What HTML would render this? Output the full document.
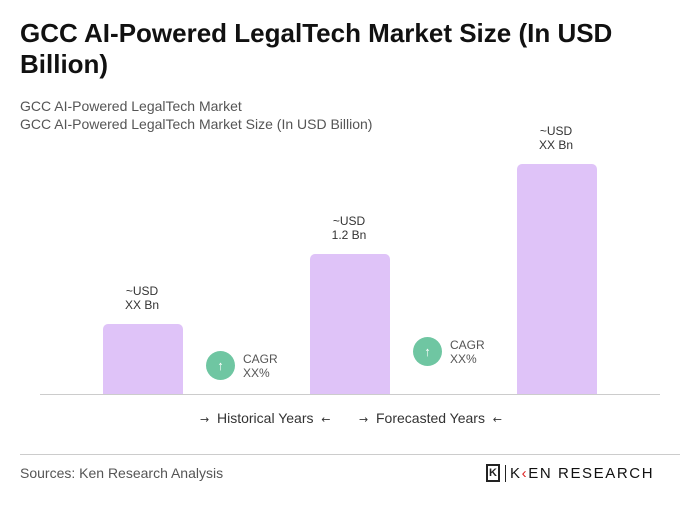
<!DOCTYPE html>
<html><head><meta charset="utf-8"><style>
body{margin:0;width:700px;height:520px;background:#fff;font-family:"Liberation Sans",sans-serif;position:relative;overflow:hidden}
.a{position:absolute}
h1{position:absolute;left:20px;top:18px;margin:0;font-size:26px;line-height:31px;font-weight:bold;color:#111;width:660px}
.sub{font-size:14px;color:#555;left:20px}
.bar{position:absolute;background:#dfc3f8;width:80px;border-radius:5px 5px 0 0}
.lbl{position:absolute;width:100px;text-align:center;font-size:12px;line-height:14px;color:#333}
.c{position:absolute;width:29px;height:29px;border-radius:50%;background:#6fc6a2;color:#fff;font-size:13px;font-weight:bold;text-align:center;line-height:29px}
.ct{position:absolute;font-size:12px;line-height:14px;color:#555}
.ar{font-size:11px;font-family:"DejaVu Sans",sans-serif}
</style></head><body>
<h1>GCC AI-Powered LegalTech Market Size (In USD Billion)</h1>
<div class="a sub" style="top:98px">GCC AI-Powered LegalTech Market</div>
<div class="a sub" style="top:116px">GCC AI-Powered LegalTech Market Size (In USD Billion)</div>
<div class="bar" style="left:103px;top:324px;height:70px"></div>
<div class="bar" style="left:310px;top:254px;height:140px"></div>
<div class="bar" style="left:517px;top:164px;height:230px"></div>
<div class="lbl" style="left:92px;top:284px">~USD<br>XX Bn</div>
<div class="lbl" style="left:299px;top:214px">~USD<br>1.2 Bn</div>
<div class="lbl" style="left:506px;top:124px">~USD<br>XX Bn</div>
<div class="c" style="left:206px;top:351px">↑</div>
<div class="ct" style="left:243px;top:352px">CAGR<br>XX%</div>
<div class="c" style="left:413px;top:337px">↑</div>
<div class="ct" style="left:450px;top:338px">CAGR<br>XX%</div>
<div class="a" style="left:40px;top:394px;width:620px;height:1px;background:#ccc"></div>
<div class="a" style="left:200px;top:410px;font-size:14px;color:#333"><span class="ar">→</span>&nbsp; Historical Years &nbsp;<span class="ar">←</span></div>
<div class="a" style="left:359px;top:410px;font-size:14px;color:#333"><span class="ar">→</span>&nbsp; Forecasted Years &nbsp;<span class="ar">←</span></div>
<div class="a" style="left:20px;top:454px;width:660px;height:1px;background:#ccc"></div>
<div class="a" style="left:20px;top:465px;font-size:14px;color:#555">Sources: Ken Research Analysis</div>
<div class="a" style="left:486px;top:464px;width:14px;height:18px;border:2px solid #222;box-sizing:border-box;font-size:11px;font-weight:bold;line-height:14px;text-align:center;color:#222">K</div>
<div class="a" style="left:505px;top:465px;width:1px;height:17px;background:#222"></div>
<div class="a" style="left:510px;top:465px;font-size:15px;letter-spacing:1.6px;color:#111;line-height:18px">K<span style="color:#d22">‹</span>EN RESEARCH</div>
</body></html>
